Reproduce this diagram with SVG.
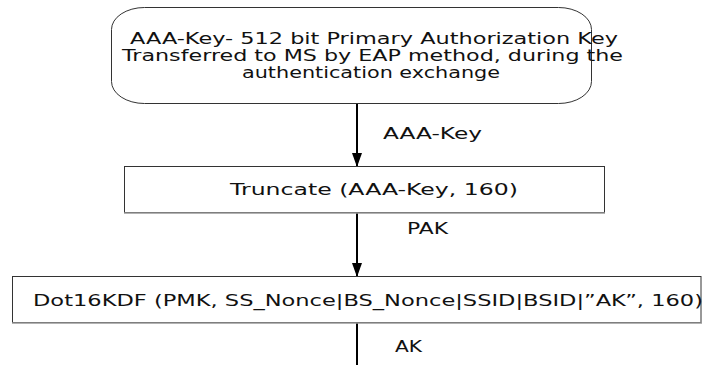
<svg xmlns="http://www.w3.org/2000/svg" width="704" height="365" viewBox="0 0 704 365">
<style>
  .box { fill: #ffffff; stroke: #333333; stroke-width: 1; }
  .shade { stroke: #999999; stroke-width: 1.5; }
  .t { font-family: "DejaVu Sans", "Liberation Sans", sans-serif; font-size: 15px; fill: #111111; }
  .conn { stroke: #000000; stroke-width: 2; fill: none; }
</style>
<defs>
  <marker id="arrow" viewBox="0 0 14 10" refX="14" refY="5" markerWidth="14" markerHeight="10" markerUnits="userSpaceOnUse" orient="auto">
    <path d="M0,0 L14,5 L0,10 z" fill="#000000"/>
  </marker>
</defs>
<rect width="704" height="365" fill="#ffffff"/>

<g id="connectors">
  <line class="conn" x1="357" y1="104" x2="357" y2="167" marker-end="url(#arrow)"/>
  <line class="conn" x1="357" y1="213" x2="357" y2="277" marker-end="url(#arrow)"/>
  <line class="conn" x1="357" y1="323" x2="357" y2="365"/>
  <text class="t" x="383" y="138.5" textLength="99" lengthAdjust="spacingAndGlyphs">AAA-Key</text>
  <text class="t" x="407" y="233.5" textLength="41" lengthAdjust="spacingAndGlyphs">PAK</text>
  <text class="t" x="395" y="351.5" textLength="27" lengthAdjust="spacingAndGlyphs">AK</text>
</g>

<g id="node-aaa-key">
  <rect class="box" x="111.5" y="7.5" width="480" height="96" rx="33" ry="22"/>
  <text class="t" x="130" y="43.5" textLength="488" lengthAdjust="spacingAndGlyphs">AAA-Key- 512 bit Primary Authorization Key</text>
  <text class="t" x="122" y="60.5" textLength="501" lengthAdjust="spacingAndGlyphs">Transferred to MS by EAP method, during the</text>
  <text class="t" x="242" y="77.5" textLength="258" lengthAdjust="spacingAndGlyphs">authentication exchange</text>
</g>

<g id="node-truncate">
  <rect class="box" x="124.5" y="166.5" width="480" height="46"/>
  <line class="shade" x1="124" y1="213" x2="605" y2="213"/>
  <text class="t" x="230" y="194.5" textLength="288" lengthAdjust="spacingAndGlyphs">Truncate (AAA-Key, 160)</text>
</g>

<g id="node-dot16kdf">
  <rect class="box" x="12.5" y="276.5" width="688.5" height="46"/>
  <line class="shade" x1="12" y1="323" x2="702" y2="323"/>
  <text class="t" x="33" y="305.5" textLength="670" lengthAdjust="spacingAndGlyphs">Dot16KDF (PMK, SS_Nonce|BS_Nonce|SSID|BSID|”AK”, 160)</text>
</g>
</svg>
